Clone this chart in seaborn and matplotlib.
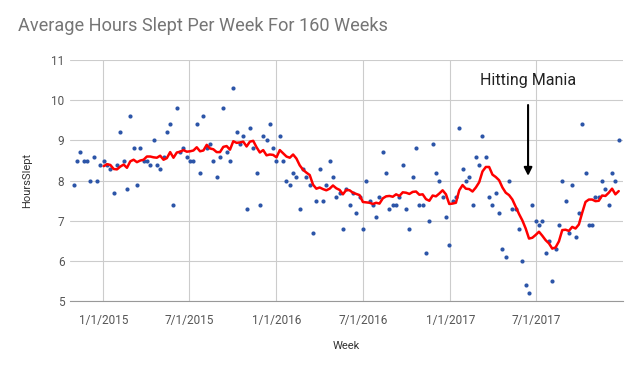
import matplotlib
matplotlib.use("Agg")
import matplotlib.pyplot as plt
import matplotlib.dates as mdates
import seaborn as sns
import pandas as pd

# ---- data ----
first_week = "2014-10-31"
hours_slept = [
    7.9, 8.5, 8.7, 8.5, 8.5, 8.0, 8.6, 8.0, 8.4, 8.5,
    8.4, 8.3, 7.7, 8.4, 9.2, 8.5, 7.8, 9.6, 8.8, 7.9,
    8.8, 8.5, 8.5, 8.4, 9.0, 8.4, 8.3, 8.6, 9.2, 9.4,
    7.4, 9.8, 8.7, 8.8, 8.6, 8.5, 8.5, 9.4, 8.2, 9.6,
    8.8, 8.9, 8.5, 8.1, 8.6, 9.8, 8.7, 8.5, 10.3, 9.2,
    8.9, 9.1, 7.3, 9.3, 8.8, 8.2, 7.4, 9.1, 9.0, 9.4,
    8.8, 8.5, 9.1, 8.5, 8.0, 7.9, 8.2, 8.1, 7.3, 8.3,
    8.1, 7.9, 6.7, 7.5, 8.3, 7.5, 7.9, 8.5, 8.1, 7.6,
    7.7, 6.8, 7.8, 7.4, 7.7, 7.2, 7.6, 6.8, 8.0, 7.5,
    7.4, 7.1, 7.6, 8.7, 8.2, 7.3, 7.4, 7.4, 7.6, 8.4,
    7.3, 6.8, 8.1, 8.8, 7.4, 7.4, 6.2, 7.0, 8.9, 8.2,
    8.0, 7.6, 7.1, 6.4, 7.5, 7.6, 9.3, 8.3, 8.0, 8.1,
    7.4, 8.6, 8.4, 9.1, 8.6, 7.6, 7.4, 7.7, 7.2, 6.3,
    6.1, 8.0, 7.3, 7.3, 6.8, 6.0, 5.4, 5.2, 7.4, 7.0,
    6.9, 7.0, 6.2, 6.5, 5.5, 6.3, 6.9, 8.0, 7.5, 6.7,
    7.9, 6.6, 7.2, 9.4, 8.2, 6.9, 6.9, 7.6, 7.6, 8.0,
    7.8, 7.4, 8.2, 8.0, 9.0,
]
moving_avg_period = 10
tick_dates = ["2015-01-01", "2015-07-01", "2016-01-01", "2016-07-01", "2017-01-01", "2017-07-01"]
tick_labels = ["1/1/2015", "7/1/2015", "1/1/2016", "7/1/2016", "1/1/2017", "7/1/2017"]
y_ticks = [5, 6, 7, 8, 9, 10, 11]
title = "Average Hours Slept Per Week For 160 Weeks"
annotation_text = "Hitting Mania"
annotation_date = "2017-06-14"
annotation_y = (9.95, 8.05)

df = pd.DataFrame({
    "Week": pd.date_range(first_week, periods=len(hours_slept), freq="7D"),
    "HoursSlept": hours_slept,
})
df["Trend"] = df["HoursSlept"].rolling(moving_avg_period).mean()

sns.set_theme(style="white")
plt.rcParams["font.family"] = ["Roboto", "DejaVu Sans"]

fig = plt.figure(figsize=(6.4, 3.69), dpi=100)
ax = fig.add_axes([70 / 640, 1 - 301.3 / 369, 553 / 640, 241.3 / 369])

sns.scatterplot(data=df, x="Week", y="HoursSlept", ax=ax, s=9, color="#2c55a8",
                linewidth=0, zorder=3)
sns.lineplot(data=df.dropna(), x="Week", y="Trend", ax=ax, color="#ff0000",
             linewidth=1.8, zorder=4)

ax.set_xlim(pd.Timestamp("2014-10-23"), pd.Timestamp("2017-12-31"))
ax.set_ylim(5, 11)
ax.set_yticks(y_ticks)
ax.set_yticklabels([str(v) for v in y_ticks])
ax.set_xticks([pd.Timestamp(d) for d in tick_dates])
ax.set_xticklabels(tick_labels)

ax.grid(True, color="#cccccc", linewidth=0.8)
ax.set_axisbelow(True)
for s in ["top", "right", "left"]:
    ax.spines[s].set_visible(False)
ax.spines["bottom"].set_color("#999999")
ax.spines["bottom"].set_linewidth(0.8)
ax.tick_params(axis="both", length=0, labelsize=8.5, colors="#555555")
ax.tick_params(axis="x", pad=9)
ax.tick_params(axis="y", pad=4)

ax.set_xlabel("Week", fontsize=8, color="#333333", labelpad=10)
ax.set_ylabel("HoursSlept", fontsize=8, color="#333333", labelpad=14)

fig.text(18 / 640, 1 - 26 / 369, title, fontsize=13.1, color="#757575",
         ha="left", va="center")

ax.annotate("", xy=(pd.Timestamp(annotation_date), annotation_y[1]),
            xytext=(pd.Timestamp(annotation_date), annotation_y[0]),
            arrowprops=dict(arrowstyle="-|>", color="black", lw=1.5,
                            mutation_scale=12))
ax.text(pd.Timestamp(annotation_date), 10.5, annotation_text, fontsize=11.5,
        color="#222222", ha="center", va="center")

fig.savefig("out.png", dpi=100, facecolor="white")
